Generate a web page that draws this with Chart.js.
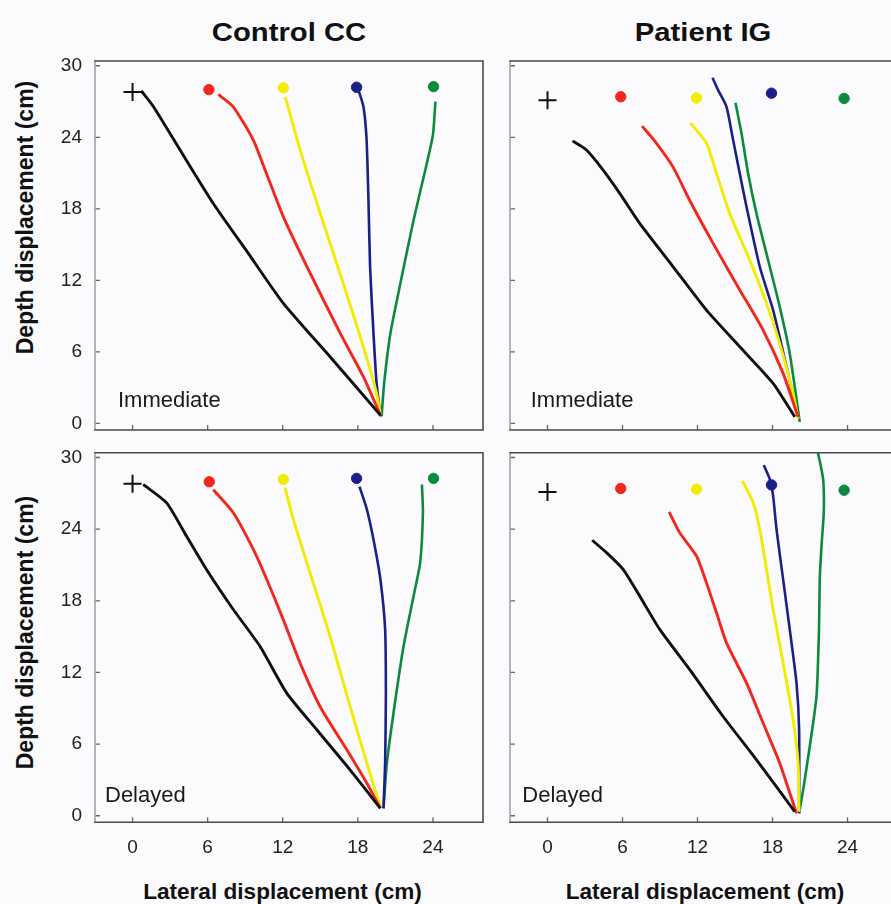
<!DOCTYPE html>
<html>
<head>
<meta charset="utf-8">
<script src="https://cdn.jsdelivr.net/npm/chart.js@4.4.1/dist/chart.umd.min.js"></script>
<style>
  html, body { margin: 0; padding: 0; background: #fbfbfd; }
  body { width: 891px; height: 904px; overflow: hidden; position: relative; font-family: "Liberation Sans", Arial, sans-serif; }
  canvas { position: absolute; }
  .title { position: absolute; width: 400px; text-align: center; font-weight: bold; font-size: 25px; line-height: 25px; color: #111; transform: scaleX(1.17); }
  .ytitle { position: absolute; width: 400px; height: 23px; text-align: center; font-weight: bold; font-size: 23px; line-height: 23px; color: #111; transform: rotate(-90deg); transform-origin: 50% 50%; }
  .xtitle { position: absolute; width: 400px; text-align: center; font-weight: bold; font-size: 22.6px; line-height: 22.6px; color: #111; }
</style>
</head>
<body>
<div class="title" style="left:89px; top:19.8px;">Control CC</div>
<div class="title" style="left:502.5px; top:19.8px;">Patient IG</div>
<div class="ytitle" style="left:-174.8px; top:205.5px;">Depth displacement (cm)</div>
<div class="ytitle" style="left:-174.8px; top:620.5px;">Depth displacement (cm)</div>
<div class="xtitle" style="left:82.5px; top:880.9px;">Lateral displacement (cm)</div>
<div class="xtitle" style="left:505px; top:880.9px;">Lateral displacement (cm)</div>

<canvas id="tl" width="485" height="390" style="left:0px; top:50px; width:485px; height:390px;"></canvas>
<canvas id="tr" width="440" height="390" style="left:485px; top:50px; width:440px; height:390px;"></canvas>
<canvas id="bl" width="485" height="420" style="left:0px; top:440px; width:485px; height:420px;"></canvas>
<canvas id="br" width="440" height="420" style="left:485px; top:440px; width:440px; height:420px;"></canvas>

<script>
// ---------- tick labels ----------
const xTicks = [0, 6, 12, 18, 24];
const yTicks = [0, 6, 12, 18, 24, 30];

// ---------- Control CC, Immediate ----------
const ccImmTargetX = [0, 6.1, 12.05, 17.9, 24.05];
const ccImmTargetY = [27.8, 28.0, 28.15, 28.2, 28.25];
const ccImmBlack  = [[0.7,27.9],[1.65,26.6],[4.05,22.5],[6.45,18.45],[9.25,14.26],[12.05,10.07],[15.9,5.45],[19.8,0.7]];
const ccImmRed    = [[6.85,27.6],[8.05,26.56],[9.65,23.77],[10.7,20.97],[12.05,17.33],[14.2,12.58],[16.6,7.55],[18.45,3.9],[19.8,0.7]];
const ccImmYellow = [[12.2,27.4],[13.4,22.9],[15.0,17.6],[16.85,11.7],[18.45,6.4],[19.5,2.5],[19.8,0.7]];
const ccImmBlue   = [[18.05,27.96],[18.45,26.56],[18.7,23.77],[18.85,18.7],[18.98,13.1],[19.25,7.55],[19.5,3.36],[19.8,0.6]];
const ccImmGreen  = [[24.2,27.0],[24.0,24.2],[23.4,21.3],[22.45,17.05],[21.4,11.75],[20.6,7.55],[20.1,3.36],[19.9,0.6]];

// ---------- Patient IG, Immediate ----------
const igImmTargetX = [0, 5.86, 11.92, 17.92, 23.73];
const igImmTargetY = [27.1, 27.4, 27.3, 27.7, 27.26];
const igImmBlack  = [[2.0,23.7],[3.12,22.93],[4.45,21.25],[5.78,19.3],[7.38,16.78],[10.05,13.14],[12.72,9.5],[15.38,6.43],[18.05,3.36],[19.78,0.55]];
const igImmRed    = [[7.57,24.94],[8.72,23.5],[10.05,21.5],[11.38,18.7],[13.25,15.1],[15.38,11.2],[17.25,7.83],[18.85,4.2],[20.05,0.55]];
const igImmYellow = [[11.44,25.2],[12.72,23.5],[13.52,20.97],[14.58,17.6],[16.18,13.7],[17.52,10.07],[18.58,6.7],[19.65,2.5],[20.05,0.4]];
const igImmBlue   = [[13.2,29.0],[13.65,27.96],[14.32,26.56],[14.85,23.77],[15.38,20.97],[15.92,18.17],[16.98,13.14],[18.05,9.5],[19.12,4.75],[20.05,0.55]];
const igImmGreen  = [[15.04,26.9],[15.52,24.33],[16.05,20.97],[16.72,17.6],[17.65,13.7],[18.58,9.78],[19.38,5.87],[20.18,0.13]];

// ---------- Control CC, Delayed ----------
const ccDelTargetX = [0, 6.13, 12.05, 17.9, 24.05];
const ccDelTargetY = [27.8, 27.97, 28.16, 28.25, 28.25];
const ccDelBlack  = [[0.85,27.74],[2.72,26.2],[4.32,23.4],[5.92,20.6],[8.05,17.27],[10.18,14.19],[12.32,10.27],[14.72,7.2],[17.38,3.84],[19.8,0.62]];
const ccDelRed    = [[6.45,27.3],[8.05,25.37],[9.65,22.3],[10.72,19.8],[12.05,16.4],[13.38,12.8],[14.98,9.15],[17.12,5.52],[18.72,2.72],[19.8,0.62]];
const ccDelYellow = [[12.18,27.47],[12.85,24.8],[14.18,20.35],[15.78,15.03],[17.38,9.15],[18.72,4.4],[19.8,0.76]];
const ccDelBlue   = [[18.13,27.56],[18.72,25.66],[19.25,23.13],[19.8,19.8],[20.18,15.6],[20.24,10.0],[20.18,4.4],[20.05,0.62]];
const ccDelGreen  = [[23.12,27.74],[23.2,25.37],[22.98,21.2],[22.45,18.38],[21.65,14.19],[20.85,8.6],[20.32,4.4],[20.05,0.62]];

// ---------- Patient IG, Delayed ----------
const igDelTargetX = [0, 5.86, 11.92, 17.92, 23.73];
const igDelTargetY = [27.1, 27.4, 27.35, 27.7, 27.26];
const igDelBlack  = [[3.57,23.07],[4.72,22.03],[6.05,20.63],[7.38,18.39],[8.98,15.6],[11.38,12.23],[14.05,8.31],[16.72,4.68],[19.78,0.34]];
const igDelRed    = [[9.73,25.44],[10.58,23.7],[11.92,21.75],[12.72,19.5],[13.52,17.0],[14.32,14.47],[15.92,11.12],[17.25,7.76],[18.58,4.4],[19.92,0.2]];
const igDelYellow = [[15.6,28.04],[16.45,26.23],[16.98,23.99],[17.52,20.63],[18.05,17.27],[18.85,12.8],[19.65,8.04],[20.05,4.4],[20.13,0.34]];
const igDelBlue   = [[17.3,29.36],[17.78,28.18],[18.05,26.78],[18.32,23.99],[18.85,19.79],[19.38,15.6],[19.92,11.12],[20.13,7.2],[20.13,0.2]];
const igDelGreen  = [[21.6,30.6],[22.05,28.18],[22.1,25.37],[21.92,22.58],[21.78,19.79],[21.72,15.6],[21.52,10.0],[20.98,5.8],[20.45,2.16],[20.13,0.2]];

// ---------- styling ----------
const COLORS = ['#111111', '#f2281c', '#f2ec00', '#1b2088', '#0b8a3e'];
const FONT = '"Liberation Sans", Arial, sans-serif';

const frameTicks = {
  id: 'frameTicks',
  afterDraw(chart, args, opts) {
    const { ctx, chartArea: a, scales: { x, y } } = chart;
    ctx.save();
    ctx.lineCap = 'butt';
    ctx.strokeStyle = '#666';
    ctx.lineWidth = 1.3;
    ctx.beginPath();
    xTicks.forEach(v => { const px = x.getPixelForValue(v); ctx.moveTo(px, a.bottom); ctx.lineTo(px, a.bottom - 5); });
    yTicks.forEach(v => { const py = y.getPixelForValue(v); ctx.moveTo(a.left, py); ctx.lineTo(a.left + 5, py); });
    ctx.stroke();
    ctx.lineWidth = 1.6;
    ctx.strokeStyle = '#a2a4a6';
    ctx.beginPath(); ctx.moveTo(a.left, a.top); ctx.lineTo(a.left, a.bottom); ctx.stroke();
    ctx.strokeStyle = '#4a4a4c';
    ctx.beginPath();
    ctx.moveTo(a.left - 0.8, a.top); ctx.lineTo(a.right, a.top); ctx.lineTo(a.right, a.bottom); ctx.lineTo(a.left - 0.8, a.bottom);
    ctx.stroke();
    ctx.fillStyle = '#1a1a1a';
    ctx.font = '22px ' + FONT;
    ctx.textAlign = 'left';
    ctx.textBaseline = 'alphabetic';
    ctx.fillText(opts.label, a.left + opts.dx, a.bottom - opts.dy);
    ctx.restore();
  }
};

function pts(arr) { return arr.map(p => ({ x: p[0], y: p[1] })); }

function zeroPad(s) { s.paddingTop = 0; s.paddingBottom = 0; s.paddingLeft = 0; s.paddingRight = 0; }

function makePanel(id, targetX, targetY, curves, o) {
  const datasets = curves.map((c, i) => ({
    data: pts(c),
    showLine: true,
    borderColor: COLORS[i],
    borderWidth: i >= 3 ? 2.6 : 2.9,
    pointRadius: 0,
    tension: 0.2,
    fill: false
  }));
  datasets.push({
    data: targetX.map((v, i) => ({ x: v, y: targetY[i] })),
    showLine: false,
    pointStyle: ['cross', 'circle', 'circle', 'circle', 'circle'],
    pointRadius: [9, 5.2, 5.2, 5.2, 5.2],
    pointBorderWidth: [2, 1, 1, 1, 1],
    pointBackgroundColor: COLORS,
    pointBorderColor: COLORS,
  });
  return new Chart(document.getElementById(id), {
    type: 'scatter',
    data: { datasets },
    plugins: [frameTicks],
    options: {
      responsive: false,
      animation: false,
      events: [],
      layout: { autoPadding: false, padding: { left: 0, top: o.padTop, right: o.padRight, bottom: 0 } },
      plugins: {
        legend: { display: false },
        tooltip: { enabled: false },
        frameTicks: { label: o.label, dx: o.dx, dy: o.dy }
      },
      scales: {
        x: {
          type: 'linear', min: -3, max: 28,
          afterBuildTicks: s => { s.ticks = xTicks.map(v => ({ value: v })); },
          afterFit: s => { s.height = o.xH; zeroPad(s); },
          grid: { display: false, drawTicks: false },
          border: { display: false },
          ticks: { display: o.showX, padding: 14, color: '#222', font: { family: FONT, size: 19 } }
        },
        y: {
          type: 'linear', min: -0.55, max: 30.4,
          afterBuildTicks: s => { s.ticks = yTicks.map(v => ({ value: v })); },
          afterFit: s => { s.width = o.yW; zeroPad(s); },
          grid: { display: false, drawTicks: false },
          border: { display: false },
          ticks: { display: o.showY, padding: 13, color: '#222', font: { family: FONT, size: 19 } }
        }
      }
    }
  });
}

makePanel('tl', ccImmTargetX, ccImmTargetY, [ccImmBlack, ccImmRed, ccImmYellow, ccImmBlue, ccImmGreen],
  { padTop: 11, padRight: 2, xH: 10, yW: 95, showX: false, showY: true, label: 'Immediate', dx: 23, dy: 23 });
makePanel('tr', igImmTargetX, igImmTargetY, [igImmBlack, igImmRed, igImmYellow, igImmBlue, igImmGreen],
  { padTop: 11, padRight: 27.5, xH: 10, yW: 25, showX: false, showY: false, label: 'Immediate', dx: 20.7, dy: 23.3 });
makePanel('bl', ccDelTargetX, ccDelTargetY, [ccDelBlack, ccDelRed, ccDelYellow, ccDelBlue, ccDelGreen],
  { padTop: 12.7, padRight: 2, xH: 37.7, yW: 95, showX: true, showY: true, label: 'Delayed', dx: 10, dy: 20 });
makePanel('br', igDelTargetX, igDelTargetY, [igDelBlack, igDelRed, igDelYellow, igDelBlue, igDelGreen],
  { padTop: 12.7, padRight: 27.5, xH: 37.7, yW: 25, showX: true, showY: false, label: 'Delayed', dx: 12.3, dy: 20 });
</script>
</body>
</html>
